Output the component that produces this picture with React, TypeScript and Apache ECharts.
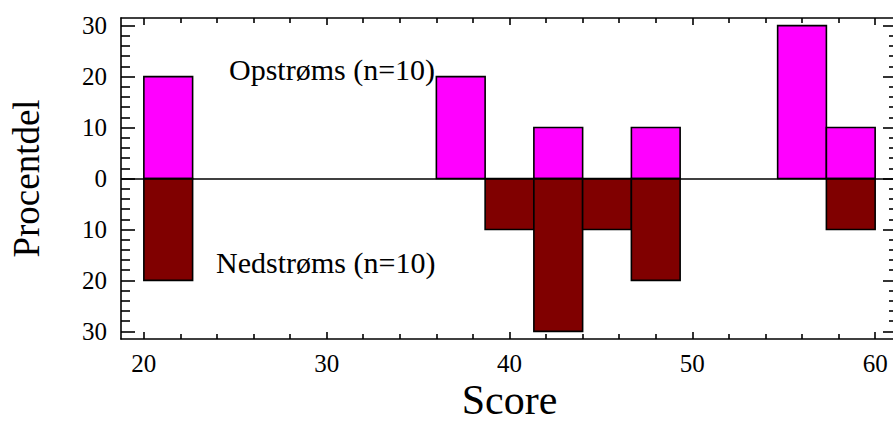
import React, { useEffect, useRef } from 'react';
import * as echarts from 'echarts';

// Histogram bin edges (Score), width 8/3
const binEdges = [20, 22.667, 25.333, 28, 30.667, 33.333, 36, 38.667, 41.333, 44, 46.667, 49.333, 52, 54.667, 57.333, 60];
// Percent per bin
const upstream = [20, 0, 0, 0, 0, 0, 20, 0, 10, 0, 10, 0, 0, 30, 10];
const downstream = [20, 0, 0, 0, 0, 0, 0, 10, 30, 10, 20, 0, 0, 0, 10];

const xMajorTicks = [20, 30, 40, 50, 60];
const xMinorTicks = [22, 24, 26, 28, 32, 34, 36, 38, 42, 44, 46, 48, 52, 54, 56, 58];
const yMajorTicks = [-30, -20, -10, 0, 10, 20, 30];
const yMinorTicks = [-28, -26, -24, -22, -18, -16, -14, -12, -8, -6, -4, -2, 2, 4, 6, 8, 12, 14, 16, 18, 22, 24, 26, 28];

const upLabel = 'Opstrøms (n=10)';
const downLabel = 'Nedstrøms (n=10)';
const xTitle = 'Score';
const yTitle = 'Procentdel';

const FONT = '"Liberation Serif", "Times New Roman", serif';

export default function App() {
  const ref = useRef<HTMLDivElement>(null);

  useEffect(() => {
    if (!ref.current) return;
    const chart = echarts.init(ref.current, undefined, { renderer: 'svg' });

    const upData = binEdges.slice(0, -1).map((lo, i) => [lo, binEdges[i + 1], upstream[i]]).filter((d) => d[2] > 0);
    const downData = binEdges.slice(0, -1).map((lo, i) => [lo, binEdges[i + 1], -downstream[i]]).filter((d) => d[2] < 0);

    const makeRender = (color: string) => (_params: any, api: any) => {
      const lo = api.value(0);
      const hi = api.value(1);
      const v = api.value(2);
      const p0 = api.coord([lo, 0]);
      const p1 = api.coord([hi, v]);
      return {
        type: 'rect',
        shape: {
          x: p0[0],
          y: Math.min(p0[1], p1[1]),
          width: p1[0] - p0[0],
          height: Math.abs(p1[1] - p0[1]),
        },
        style: { fill: color, stroke: '#000', lineWidth: 1.6 },
      };
    };

    const xMin = 18.75;
    const xMax = 61.25;
    const yMin = -31.5;
    const yMax = 31.5;
    const lineStyle = { color: '#000', width: 1.6 };

    const xBase = (position: string) => ({
      type: 'value',
      position,
      min: xMin,
      max: xMax,
      splitLine: { show: false },
    });
    const yBase = (position: string) => ({
      type: 'value',
      position,
      min: yMin,
      max: yMax,
      splitLine: { show: false },
    });

    chart.setOption({
      animation: false,
      backgroundColor: '#fff',
      grid: { left: 121, right: -5, top: 18, bottom: 83, containLabel: false, outerBoundsMode: 'none' },
      xAxis: [
        {
          ...xBase('bottom'),
          axisLine: { show: true, onZero: false, lineStyle },
          axisTick: { show: true, inside: true, length: 7, customValues: xMajorTicks, lineStyle },
          axisLabel: {
            show: true,
            customValues: xMajorTicks,
            margin: 12,
            color: '#000',
            fontFamily: FONT,
            fontSize: 25,
          },
          name: xTitle,
          nameLocation: 'middle',
          nameGap: 46,
          nameMoveOverlap: false,
          nameTextStyle: { color: '#000', fontFamily: FONT, fontSize: 42, lineHeight: 30 },
        },
        {
          ...xBase('bottom'),
          axisLine: { show: false, onZero: false },
          axisTick: { show: true, inside: true, length: 5, customValues: xMinorTicks, lineStyle },
          axisLabel: { show: false },
        },
        {
          ...xBase('top'),
          axisLine: { show: true, onZero: false, lineStyle },
          axisTick: { show: true, inside: true, length: 7, customValues: xMajorTicks, lineStyle },
          axisLabel: { show: false },
        },
        {
          ...xBase('top'),
          axisLine: { show: false, onZero: false },
          axisTick: { show: true, inside: true, length: 5, customValues: xMinorTicks, lineStyle },
          axisLabel: { show: false },
        },
      ],
      yAxis: [
        {
          ...yBase('left'),
          axisLine: { show: true, onZero: false, lineStyle },
          axisTick: { show: true, inside: true, length: 14, customValues: yMajorTicks, lineStyle },
          axisLabel: {
            show: true,
            customValues: yMajorTicks,
            margin: 14,
            color: '#000',
            fontFamily: FONT,
            fontSize: 25,
            formatter: (v: number) => String(Math.abs(v)),
          },
          name: yTitle,
          nameLocation: 'middle',
          nameGap: 76,
          nameTextStyle: { color: '#000', fontFamily: FONT, fontSize: 37 },
        },
        {
          ...yBase('left'),
          axisLine: { show: false, onZero: false },
          axisTick: { show: true, inside: true, length: 9, customValues: yMinorTicks, lineStyle },
          axisLabel: { show: false },
        },
        {
          ...yBase('right'),
          axisLine: { show: true, onZero: false, lineStyle },
          axisTick: { show: true, inside: true, length: 15, customValues: yMajorTicks, lineStyle },
          axisLabel: { show: false },
        },
        {
          ...yBase('right'),
          axisLine: { show: false, onZero: false },
          axisTick: { show: true, inside: true, length: 9, customValues: yMinorTicks, lineStyle },
          axisLabel: { show: false },
        },
      ],
      graphic: [
        {
          type: 'text',
          x: 229,
          y: 69,
          style: {
            text: upLabel,
            font: `30px ${FONT}`,
            fill: '#000',
            textAlign: 'left',
            textVerticalAlign: 'middle',
          },
          z: 10,
        },
        {
          type: 'text',
          x: 216,
          y: 262,
          style: {
            text: downLabel,
            font: `30px ${FONT}`,
            fill: '#000',
            textAlign: 'left',
            textVerticalAlign: 'middle',
          },
          z: 10,
        },
      ],
      series: [
        {
          type: 'custom',
          name: upLabel,
          xAxisIndex: 0,
          yAxisIndex: 0,
          renderItem: makeRender('#ff00ff'),
          encode: { x: [0, 1], y: 2 },
          data: upData,
          z: 2,
        },
        {
          type: 'custom',
          name: downLabel,
          xAxisIndex: 0,
          yAxisIndex: 0,
          renderItem: makeRender('#800000'),
          encode: { x: [0, 1], y: 2 },
          data: downData,
          z: 2,
          markLine: {
            silent: true,
            symbol: 'none',
            label: { show: false },
            lineStyle: { color: '#000', width: 1.6, type: 'solid' },
            data: [{ yAxis: 0 }],
            z: 3,
          },
        },
      ],
    });

    return () => {
      chart.dispose();
    };
  }, []);

  return (
    <div
      ref={ref}
      style={{ position: 'fixed', left: 0, top: 0, width: 893, height: 422, background: '#fff' }}
    />
  );
}
